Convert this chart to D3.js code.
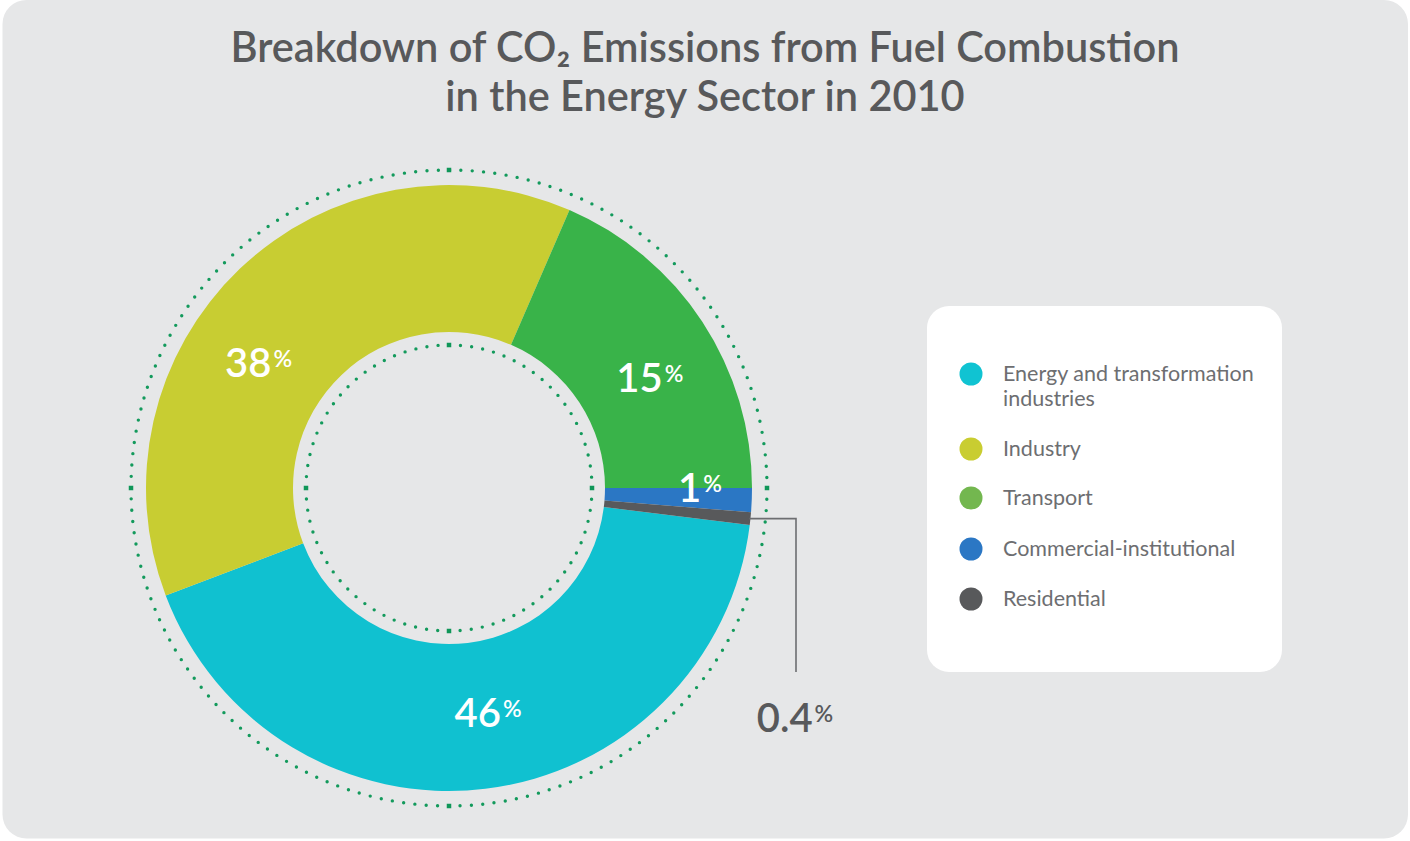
<!DOCTYPE html>
<html>
<head>
<meta charset="utf-8">
<script src="https://cdn.jsdelivr.net/npm/d3@7"></script>
<style>
  html, body { margin: 0; padding: 0; background: #ffffff; }
  svg { display: block; }
  text { font-family: Lato, "Open Sans", sans-serif; }
</style>
</head>
<body>
<svg id="chart" width="1410" height="841"></svg>
<script>
// ---------- data ----------
const titleLines = ["Breakdown of CO\u2082 Emissions from Fuel Combustion", "in the Energy Sector in 2010"];
const categories = ["Energy and transformation industries", "Industry", "Transport", "Commercial-institutional", "Residential"];
const legendLines = [["Energy and transformation", "industries"], ["Industry"], ["Transport"], ["Commercial-institutional"], ["Residential"]];
// printed percentages
const values = [46, 38, 15, 1, 0.4];
// share of the ring each slice actually occupies in the drawing
const arcShares = [42.3, 37.3, 18.5, 1.28, 0.67];
// clockwise order of slices starting at 3 o'clock
const pieOrder = ["Commercial-institutional", "Residential", "Energy and transformation industries", "Industry", "Transport"];

// ---------- styles ----------
const sliceColors = ["#10c1d0", "#c8cd32", "#39b349", "#2b77c4", "#58595b"];
const legendColors = ["#10c3d2", "#c9cd31", "#73b74f", "#2b77c4", "#58595b"];
const labelNudgeDeg = [-3, -13, 4.6, -2.3, 0];
const labelRadius = [228, 228, 229, 251, 0];

const svg = d3.select("#chart");

// card background
svg.append("rect").attr("x", 2.5).attr("y", 0).attr("width", 1405.5).attr("height", 838.5)
  .attr("rx", 24).attr("fill", "#e6e7e8");

// title (one text element, two lines)
const title = svg.append("text").attr("x", 705).attr("y", 62).attr("text-anchor", "middle")
  .attr("fill", "#58595b").attr("font-size", 41.5).attr("font-weight", 600);
title.append("tspan").attr("x", 705).attr("y", 62).text(titleLines[0]);
title.append("tspan").attr("x", 705).attr("y", 111).text(titleLines[1]);

// donut
const cx = 449, cy = 488, rOuter = 303, rInner = 156;
const g = svg.append("g").attr("transform", `translate(${cx},${cy})`);

const data = categories.map((c, i) => ({ name: c, value: values[i], share: arcShares[i], i }));
const pie = d3.pie().value(d => d.share)
  .sort((a, b) => pieOrder.indexOf(a.name) - pieOrder.indexOf(b.name))
  .startAngle(Math.PI / 2).endAngle(Math.PI / 2 + 2 * Math.PI);
const arcs = pie(data);
const arc = d3.arc().innerRadius(rInner).outerRadius(rOuter);

g.selectAll("path.slice").data(arcs).join("path").attr("class", "slice")
  .attr("d", arc).attr("fill", d => sliceColors[d.data.i]);

// dotted rings
function dottedRing(r, n, sq) {
  const circ = 2 * Math.PI * r;
  const step = circ / n;
  g.append("circle").attr("r", r).attr("fill", "none").attr("stroke", "#139a5c")
    .attr("stroke-width", 3.4).attr("stroke-linecap", "round")
    .attr("stroke-dasharray", `0 ${step}`);
  [0, 90, 180, 270].forEach(a => {
    const t = a * Math.PI / 180;
    g.append("rect").attr("x", r * Math.cos(t) - sq / 2).attr("y", r * Math.sin(t) - sq / 2)
      .attr("width", sq).attr("height", sq).attr("fill", "#0f9658");
  });
}
dottedRing(318, 176, 4.5);
dottedRing(143, 80, 4.5);

// slice labels
const fmt = v => (v < 1 ? d3.format(".1f")(v) : d3.format("d")(v));
arcs.forEach(a => {
  const i = a.data.i;
  if (labelRadius[i] === 0) return;
  const ang = (a.startAngle + a.endAngle) / 2 + labelNudgeDeg[i] * Math.PI / 180;
  const x = labelRadius[i] * Math.sin(ang), y = -labelRadius[i] * Math.cos(ang);
  const t = g.append("text").attr("x", x).attr("y", y + 14).attr("text-anchor", "middle")
    .attr("fill", "#ffffff").attr("font-size", 40).attr("font-weight", 600);
  t.append("tspan").text(fmt(a.data.value));
  t.append("tspan").text("%").attr("font-size", 23).attr("dy", -10).attr("dx", 2);
});

// callout for residential
const res = arcs.find(a => a.data.name === "Residential");
const mid = (res.startAngle + res.endAngle) / 2;
const p0 = [ (rOuter - 1) * Math.sin(mid), -(rOuter - 1) * Math.cos(mid) ];
const elbowX = 347;
g.append("path").attr("d", `M${p0[0]},${p0[1]}H${elbowX}V${672 - cy}`)
  .attr("fill", "none").attr("stroke", "#6d6e71").attr("stroke-width", 1.6);
const rl = g.append("text").attr("x", elbowX - 1).attr("y", 732 - cy).attr("text-anchor", "middle")
  .attr("fill", "#58595b").attr("font-size", 40).attr("font-weight", 600);
rl.append("tspan").text(fmt(res.data.value));
rl.append("tspan").text("%").attr("font-size", 23).attr("dy", -10).attr("dx", 2);

// legend
svg.append("rect").attr("x", 927).attr("y", 306).attr("width", 355).attr("height", 366)
  .attr("rx", 22).attr("fill", "#ffffff");
const legendY = [374, 449, 498, 549, 599];
const lg = svg.append("g");
categories.forEach((c, i) => {
  lg.append("circle").attr("cx", 971).attr("cy", legendY[i]).attr("r", 11.5).attr("fill", legendColors[i]);
  const t = lg.append("text").attr("x", 1003).attr("y", legendY[i] + 6.5)
    .attr("fill", "#6d6e71").attr("font-size", 21.5);
  legendLines[i].forEach((ln, j) => {
    t.append("tspan").attr("x", 1003).attr("dy", j === 0 ? 0 : 25).text(ln);
  });
});
</script>
</body>
</html>
